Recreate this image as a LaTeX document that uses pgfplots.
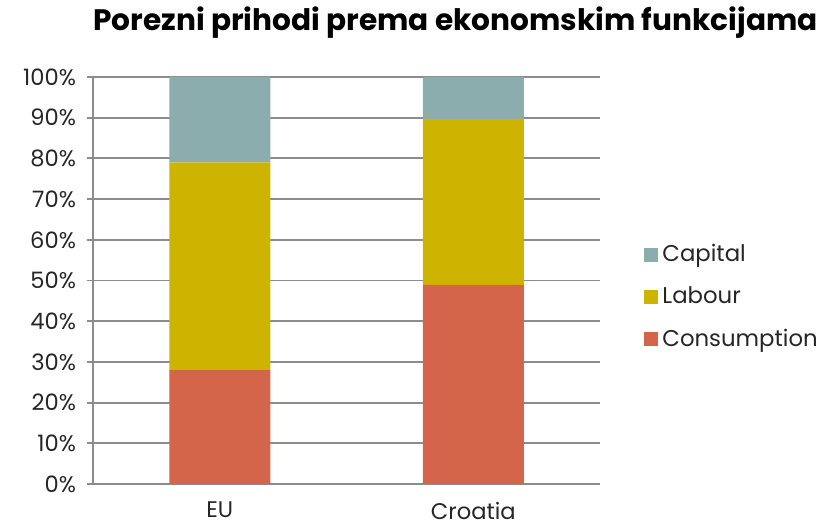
\documentclass[border=0pt]{standalone}
\usepackage{fontspec}
\setmainfont{Poppins}
\usepackage{pgfplots}
\pgfplotsset{compat=1.18}

\definecolor{capital}{HTML}{8BADAD}
\definecolor{labour}{HTML}{CDB400}
\definecolor{consum}{HTML}{D4654A}
\definecolor{gridgray}{HTML}{8C8C8C}

\begin{document}
\begin{tikzpicture}[x=0.5pt,y=0.5pt]
% page = 838 x 529 px, axis box from (93,484) to (600,77)
\path[use as bounding box] (-93,-45) rectangle (745,484);
\begin{axis}[
  at={(0,0)}, anchor=south west,
  scale only axis, width=253.5pt, height=203.5pt,
  ybar stacked, bar width=50.5pt,
  xmin=-0.5, xmax=1.5, ymin=0, ymax=100,
  xtick={0,1}, xticklabels={EU,Croatia},
  major x tick style={draw=none},
  extra x ticks={-0.5,0.5,1.5}, extra x tick labels={},
  extra x tick style={major tick length=3.5pt, tick align=outside, tick style={gridgray, line width=0.9pt}, grid=none},
  ytick={0,10,...,100},
  yticklabel={\pgfmathprintnumber{\tick}\%},
  /pgf/number format/assume math mode=true,
  ymajorgrids, grid style={gridgray, line width=0.9pt},
  major y tick style={gridgray, line width=0.9pt},
  major tick length=3pt, tick align=outside,
  axis x line*=bottom, axis y line*=left,
  axis line style={gridgray, line width=0.9pt},
  x axis line style={-}, y axis line style={-},
  tick label style={font=\fontsize{11.3}{13}\selectfont, text=black!85},
  xticklabel style={yshift=-2.5pt},
  yticklabel style={xshift=-2pt},
  title={\textbf{Porezni prihodi prema ekonomskim funkcijama}},
  title style={at={(0.715,1)}, anchor=south, yshift=10pt, font=\fontsize{14.8}{16}\selectfont},
  legend style={draw=none, fill=none, at={(1.075,0.46)}, anchor=west,
    font=\fontsize{11.4}{13}\selectfont, text=black!85, row sep=7pt,
    /tikz/every even column/.style={column sep=2pt}},
  legend cell align=left, reverse legend,
  legend image code/.code={\fill[#1] (0pt,-3.5pt) rectangle (7pt,3.5pt);},
]
\addplot[fill=consum, draw=none] coordinates {(0,28.0) (1,48.9)};
\addlegendentry{Consumption}
\addplot[fill=labour, draw=none] coordinates {(0,51.0) (1,40.8)};
\addlegendentry{Labour}
\addplot[fill=capital, draw=none] coordinates {(0,21.0) (1,10.3)};
\addlegendentry{Capital}
\end{axis}
\end{tikzpicture}
\end{document}
